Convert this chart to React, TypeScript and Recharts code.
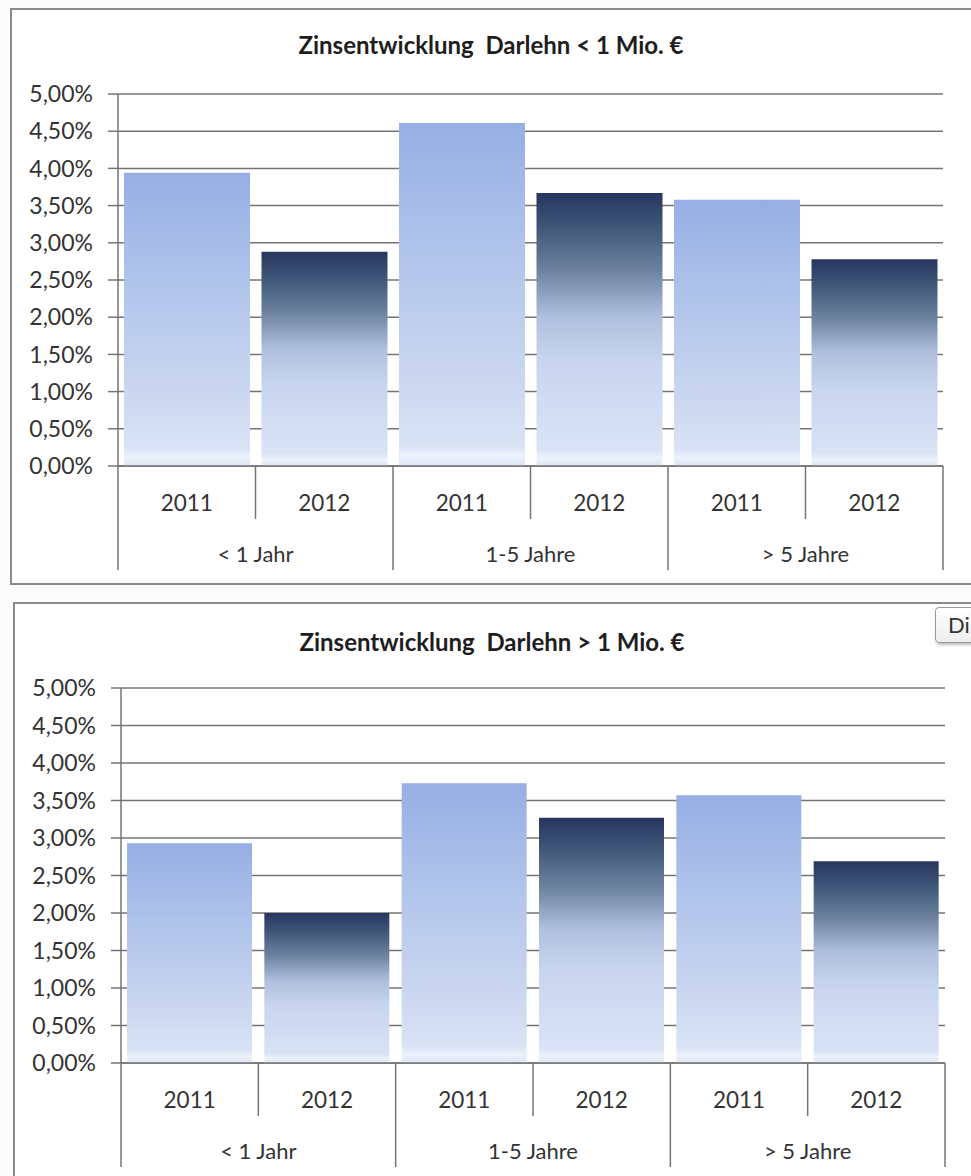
import { BarChart, Bar, XAxis, YAxis, CartesianGrid, Cell } from 'recharts';

const categoryGroups = ['< 1 Jahr', '1-5 Jahre', '> 5 Jahre'];
const years = ['2011', '2012'];
const ratesUnder1Mio = [3.94, 2.88, 4.61, 3.67, 3.58, 2.78];
const ratesOver1Mio = [2.93, 2.0, 3.73, 3.27, 3.57, 2.69];
const yTicks = [0, 0.5, 1, 1.5, 2, 2.5, 3, 3.5, 4, 4.5, 5];

const FONT = 'Lato, "Open Sans", sans-serif';
const LINE = '#747474';
const TEXT = '#333';
const PAGE_W = 971;
const Y_AXIS_W = 100;

type Row = { key: string; group: string; year: string; rate: number };

const buildRows = (values: number[]): Row[] =>
  categoryGroups.flatMap((group, gi) =>
    years.map((year, yi) => ({ key: `${group} ${year}`, group, year, rate: values[gi * 2 + yi] }))
  );

const formatPercent = (v: number) => `${v.toFixed(2).replace('.', ',')}%`;

// two-level category axis: years on top, maturity groups below, with separators
function CategoryTick(props: any) {
  const { x, y, index, rows, band } = props;
  const row: Row = rows[index];
  const groupStart = index % 2 === 0;
  const isLast = index === rows.length - 1;
  return (
    <g>
      <line x1={x - band / 2} x2={x - band / 2} y1={y} y2={y + (groupStart ? 104 : 53)} stroke={LINE} strokeWidth={1.5} />
      {isLast && <line x1={x + band / 2} x2={x + band / 2} y1={y} y2={y + 104} stroke={LINE} strokeWidth={1.5} />}
      <text x={x} y={y + 36} textAnchor="middle" dominantBaseline="central" fill={TEXT} fontSize={22.5} fontFamily={FONT}>
        {row.year}
      </text>
      {groupStart && (
        <text x={x + band / 2} y={y + 87} textAnchor="middle" dominantBaseline="central" fill={TEXT} fontSize={22} fontFamily={FONT}>
          {row.group}
        </text>
      )}
    </g>
  );
}

type ChartProps = {
  id: string;
  title: string;
  values: number[];
  box: { left: number; top: number; height: number };
  plot: { left: number; right: number; top: number; bottom: number };
  titleX: number;
  titleY: number;
};

function ZinsChart({ id, title, values, box, plot, titleX, titleY }: ChartProps) {
  const rows = buildRows(values);
  const band = (plot.right - plot.left) / rows.length;
  const chartTop = box.top;
  const chartHeight = 1176 - chartTop;
  const axisHeight = Math.min(chartTop + chartHeight, box.top + box.height) - plot.bottom;

  return (
    <>
      <div
        style={{
          position: 'absolute',
          left: box.left,
          top: box.top,
          width: 980 - box.left,
          height: box.height,
          border: '2px solid #8a8a8a',
          boxSizing: 'border-box',
          background: '#fff',
        }}
      />
      <div
        style={{
          position: 'absolute',
          left: titleX - 300,
          top: titleY - 15,
          width: 600,
          lineHeight: '30px',
          textAlign: 'center',
          fontWeight: 'bold',
          fontSize: 24,
          color: '#1e1e1e',
          whiteSpace: 'pre',
        }}
      >
        {title}
      </div>
      <div style={{ position: 'absolute', left: 0, top: chartTop }}>
        <BarChart
          width={PAGE_W}
          height={plot.bottom - chartTop + axisHeight}
          data={rows}
          margin={{ top: plot.top - chartTop, right: PAGE_W - plot.right, bottom: 0, left: plot.left - Y_AXIS_W }}
          barCategoryGap={6}
        >
          <defs>
            <linearGradient id={`light-${id}`} x1="0" y1="0" x2="0" y2="1">
              <stop offset="0%" stopColor="#96aee4" />
              <stop offset="35%" stopColor="#aec2ea" />
              <stop offset="75%" stopColor="#cbd7f0" />
              <stop offset="94%" stopColor="#d9e3f5" />
              <stop offset="97%" stopColor="#edf2fb" />
              <stop offset="100%" stopColor="#dce5f5" />
            </linearGradient>
            <linearGradient id={`dark-${id}`} x1="0" y1="0" x2="0" y2="1">
              <stop offset="0%" stopColor="#27365f" />
              <stop offset="12%" stopColor="#3e5577" />
              <stop offset="28%" stopColor="#6b819e" />
              <stop offset="45%" stopColor="#aebfdc" />
              <stop offset="62%" stopColor="#c8d5ef" />
              <stop offset="94%" stopColor="#d9e3f5" />
              <stop offset="97%" stopColor="#edf2fb" />
              <stop offset="100%" stopColor="#dce5f5" />
            </linearGradient>
          </defs>
          <CartesianGrid horizontal vertical={false} stroke={LINE} strokeWidth={1.5} />
          <XAxis
            dataKey="key"
            interval={0}
            height={axisHeight}
            axisLine={{ stroke: LINE, strokeWidth: 1.5 }}
            tickLine={false}
            tickSize={0}
            tickMargin={0}
            tick={(p: any) => <CategoryTick {...p} rows={rows} band={band} />}
          />
          <YAxis
            width={Y_AXIS_W}
            domain={[0, 5]}
            ticks={yTicks}
            interval={0}
            tickFormatter={formatPercent}
            axisLine={{ stroke: LINE, strokeWidth: 1.5 }}
            tickLine={{ stroke: LINE, strokeWidth: 1.5 }}
            tickSize={10}
            tickMargin={15}
            tick={{ fill: TEXT, fontSize: 23, fontFamily: FONT }}
          />
          <Bar dataKey="rate" isAnimationActive={false}>
            {rows.map((row) => (
              <Cell key={row.key} fill={row.year === '2011' ? `url(#light-${id})` : `url(#dark-${id})`} />
            ))}
          </Bar>
        </BarChart>
      </div>
    </>
  );
}

export default function App() {
  return (
    <div
      style={{
        position: 'absolute',
        left: 0,
        top: 0,
        width: PAGE_W,
        height: 1176,
        overflow: 'hidden',
        background: '#fbfbfb',
        fontFamily: FONT,
      }}
    >
      <ZinsChart
        id="a"
        title={'Zinsentwicklung  Darlehn < 1 Mio. €'}
        values={ratesUnder1Mio}
        box={{ left: 10, top: 8, height: 577 }}
        plot={{ left: 118, right: 943, top: 94, bottom: 466 }}
        titleX={491}
        titleY={45}
      />
      <ZinsChart
        id="b"
        title={'Zinsentwicklung  Darlehn > 1 Mio. €'}
        values={ratesOver1Mio}
        box={{ left: 13, top: 602, height: 600 }}
        plot={{ left: 121, right: 945, top: 688, bottom: 1063 }}
        titleX={492}
        titleY={642}
      />
      <div
        style={{
          position: 'absolute',
          left: 935,
          top: 607,
          width: 60,
          height: 36,
          border: '1px solid #9a9a9a',
          borderRadius: 4,
          boxSizing: 'border-box',
          background: 'linear-gradient(#ffffff, #eeeeee)',
          boxShadow: '1px 2px 3px rgba(0,0,0,0.25)',
          paddingLeft: 12,
          lineHeight: '34px',
          fontSize: 22,
          color: TEXT,
        }}
      >
        Di
      </div>
    </div>
  );
}
